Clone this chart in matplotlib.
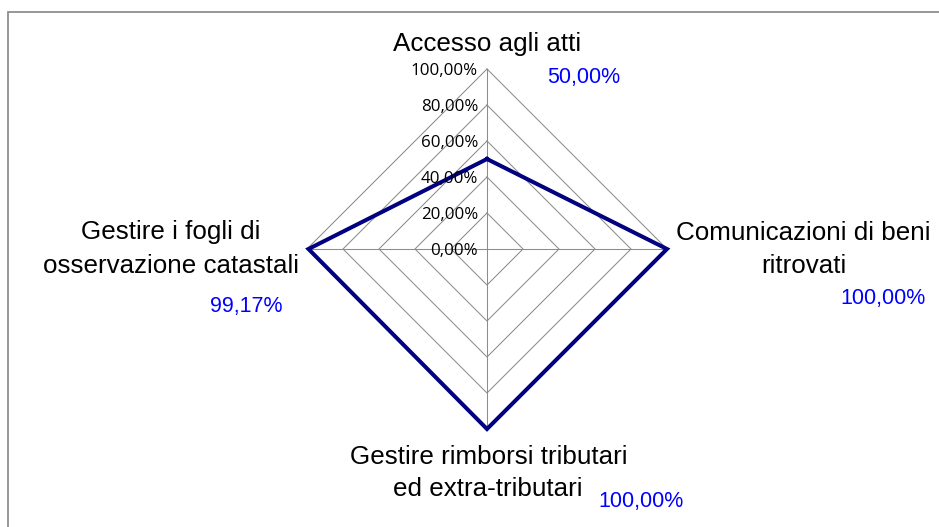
import numpy as np
import matplotlib
matplotlib.use("Agg")
import matplotlib.pyplot as plt
from matplotlib import transforms
from matplotlib.patches import Rectangle

# ---- data ----
categories = [
    ["Accesso agli atti"],
    ["Comunicazioni di beni", "ritrovati"],
    ["Gestire rimborsi tributari", "ed extra-tributari"],
    ["Gestire i fogli di", "osservazione catastali"],
]
values = [0.50, 1.00, 1.00, 0.9917]
value_labels = ["50,00%", "100,00%", "100,00%", "99,17%"]
ring_levels = [0.0, 0.2, 0.4, 0.6, 0.8, 1.0]
ring_labels = ["0,00%", "20,00%", "40,00%", "60,00%", "80,00%", "100,00%"]

W, H = 939, 527
cx, cy, R = 487.0, 249.0, 180.0   # pixel centre and radius of 100%

fig = plt.figure(figsize=(W / 100, H / 100), dpi=100)
fig.patch.set_facecolor("white")
ax = fig.add_axes([0, 0, 1, 1])
ax.set_xlim(-cx / R, (W - cx) / R)
ax.set_ylim((cy - H) / R, cy / R)
ax.axis("off")

def px(x, y):
    """pixel position (from top-left) -> data coordinates"""
    return (x - cx) / R, (cy - y) / R

# outer frame (only top & left visible in crop)
fig.patches.append(Rectangle((8 / W, 0 - 0.2), 2.0, (H - 12) / H + 0.2,
                             transform=fig.transFigure, fill=False,
                             edgecolor="#8f8f8f", linewidth=1.3, zorder=0))

n = len(values)
angles = np.pi / 2 - np.arange(n) * 2 * np.pi / n   # clockwise from top
ca, sa = np.cos(angles), np.sin(angles)

grid_col = "#8c8c8c"
# rings
for r in ring_levels[1:]:
    xs = np.append(r * ca, r * ca[0])
    ys = np.append(r * sa, r * sa[0])
    ax.plot(xs, ys, color=grid_col, lw=0.75, zorder=1)
# spokes
for c, s in zip(ca, sa):
    ax.plot([0, c], [0, s], color=grid_col, lw=0.75, zorder=1)

# series
v = np.array(values)
ax.plot(np.append(v * ca, v[0] * ca[0]), np.append(v * sa, v[0] * sa[0]),
        color="#000080", lw=2.9, solid_joinstyle="miter", zorder=3)

# ring (tick) labels along top spoke
tr = transforms.offset_copy(ax.transData, fig=fig, x=-9, y=-2.5, units="dots")
for r, lab in zip(ring_levels, ring_labels):
    ax.text(0, r, lab, transform=tr, ha="right", va="center",
            fontsize=12.2, family="Open Sans", color="#000000", zorder=4)

# category labels (pixel positions of baselines)
label_pos = [
    [(487.5, 51.5)],
    [(803.0, 240.5), (803.5, 273.5)],
    [(488.5, 464.0), (488.0, 496.5)],
    [(171.0, 239.0), (171.0, 273.5)],
]
for lines, pos in zip(categories, label_pos):
    for txt, (x, y) in zip(lines, pos):
        ax.text(*px(x, y), txt, ha="center", va="baseline",
                fontsize=18.7, family="Liberation Sans", color="black")

value_pos = [(583.7, 83.3), (882.5, 304.0), (641.3, 506.7), (245.8, 311.7)]
for lab, (x, y) in zip(value_labels, value_pos):
    ax.text(*px(x, y), lab, ha="center", va="baseline",
            fontsize=15.5, family="Liberation Sans", color="#0000ff")

fig.savefig("out.png", dpi=100, facecolor="white")
